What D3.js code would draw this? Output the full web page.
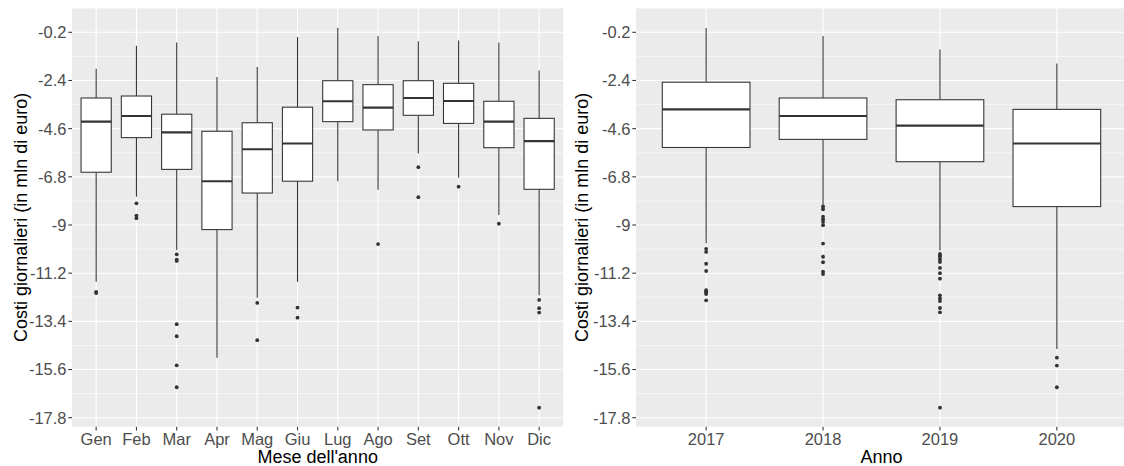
<!DOCTYPE html>
<html>
<head>
<meta charset="utf-8">
<script src="https://cdn.jsdelivr.net/npm/d3@7"></script>
<style>
  html, body { margin: 0; padding: 0; background: #ffffff; }
  svg { display: block; font-family: "Liberation Sans", Arial, sans-serif; }
</style>
</head>
<body>
<svg id="chart" width="1124" height="466"></svg>
<script>
// ---------- DATA ----------
const months = ["Gen","Feb","Mar","Apr","Mag","Giu","Lug","Ago","Set","Ott","Nov","Dic"];
const monthWhiskerHigh = [-1.86, -0.81, -0.67, -2.24, -1.78, -0.41, 0.01, -0.37, -0.61, -0.57, -0.67, -1.94];
const monthQ3          = [-3.20, -3.11, -3.94, -4.72, -4.33, -3.62, -2.41, -2.59, -2.41, -2.53, -3.35, -4.13];
const monthMedian      = [-4.28, -4.02, -4.77, -7.00, -5.54, -5.28, -3.35, -3.64, -3.20, -3.34, -4.28, -5.17];
const monthQ1          = [-6.59, -5.01, -6.46, -9.21, -7.54, -7.00, -4.28, -4.66, -3.99, -4.36, -5.47, -7.37];
const monthWhiskerLow  = [-11.59, -7.71, -10.14, -15.06, -12.32, -11.59, -7.00, -7.39, -5.74, -6.84, -8.54, -12.21];
const monthOutliers = [
  [-12.05, -12.11],
  [-8.01, -8.57, -8.69],
  [-10.34, -10.58, -10.64, -13.53, -14.08, -15.41, -16.41],
  [],
  [-12.56, -14.26],
  [-12.77, -13.23],
  [],
  [-9.87],
  [-6.36, -7.73],
  [-7.25],
  [-8.94],
  [-12.42, -12.80, -13.00, -17.34]
];

const years = ["2017","2018","2019","2020"];
const yearWhiskerHigh = [0.00, -0.37, -0.99, -1.62];
const yearQ3          = [-2.48, -3.20, -3.28, -3.72];
const yearMedian      = [-3.72, -4.02, -4.46, -5.28];
const yearQ1          = [-5.46, -5.09, -6.11, -8.16];
const yearWhiskerLow  = [-9.83, -8.07, -10.17, -14.66];
const yearOutliers = [
  [-10.09, -10.23, -10.77, -11.10, -11.97, -12.03, -12.09, -12.15, -12.44],
  [-8.15, -8.28, -8.62, -8.74, -8.86, -9.01, -9.85, -10.45, -10.70, -11.13, -11.24],
  [-10.32, -10.40, -10.45, -10.57, -10.69, -10.96, -11.20, -11.45, -12.21, -12.35, -12.47, -12.79, -12.99, -17.34],
  [-15.06, -15.42, -16.41]
];

const yTicks = [-0.2, -2.4, -4.6, -6.8, -9, -11.2, -13.4, -15.6, -17.8];
const yTitle = "Costi giornalieri (in mln di euro)";
const xTitleLeft = "Mese dell'anno";
const xTitleRight = "Anno";

// ---------- LAYOUT ----------
const svg = d3.select("#chart");
const panelTop = 8, panelBottom = 426.7;
const y = d3.scaleLinear().domain([-17.8, -0.2]).range([417.7, 32.3]);
const minorTicks = [];
for (let i = 0; i < yTicks.length - 1; i++) minorTicks.push((yTicks[i] + yTicks[i + 1]) / 2);
minorTicks.unshift(yTicks[0] + 1.1);

function drawPanel(cfg) {
  const { cats, hi, q3, med, q1, lo, outs, x0, x1, title, ytitleX } = cfg;
  const x = d3.scalePoint().domain(cats).range([x0, x1]).padding(0.6);
  const step = x.step();
  const bw = step * 0.75;
  const g = svg.append("g");
  const clipId = "clip" + Math.round(x0);
  svg.append("clipPath").attr("id", clipId).append("rect")
    .attr("x", x0).attr("y", panelTop).attr("width", x1 - x0).attr("height", panelBottom - panelTop);

  g.append("rect").attr("x", x0).attr("y", panelTop)
    .attr("width", x1 - x0).attr("height", panelBottom - panelTop).attr("fill", "#EBEBEB");

  const grid = g.append("g").attr("clip-path", `url(#${clipId})`);
  grid.selectAll("line.minor").data(minorTicks).join("line")
    .attr("x1", x0).attr("x2", x1).attr("y1", d => y(d)).attr("y2", d => y(d))
    .attr("stroke", "#ffffff").attr("stroke-width", 0.55);
  grid.selectAll("line.major").data(yTicks).join("line")
    .attr("x1", x0).attr("x2", x1).attr("y1", d => y(d)).attr("y2", d => y(d))
    .attr("stroke", "#ffffff").attr("stroke-width", 1.1);
  grid.selectAll("line.vmajor").data(cats).join("line")
    .attr("x1", d => x(d)).attr("x2", d => x(d)).attr("y1", panelTop).attr("y2", panelBottom)
    .attr("stroke", "#ffffff").attr("stroke-width", 1.1);

  const boxes = g.append("g").attr("clip-path", `url(#${clipId})`);
  cats.forEach((c, i) => {
    const cx = x(c);
    boxes.append("line").attr("x1", cx).attr("x2", cx)
      .attr("y1", y(hi[i])).attr("y2", y(q3[i]))
      .attr("stroke", "#333333").attr("stroke-width", 1.07);
    boxes.append("line").attr("x1", cx).attr("x2", cx)
      .attr("y1", y(q1[i])).attr("y2", y(lo[i]))
      .attr("stroke", "#333333").attr("stroke-width", 1.07);
    boxes.append("rect").attr("x", cx - bw / 2).attr("y", y(q3[i]))
      .attr("width", bw).attr("height", y(q1[i]) - y(q3[i]))
      .attr("fill", "#ffffff").attr("stroke", "#333333").attr("stroke-width", 1.07);
    boxes.append("line").attr("x1", cx - bw / 2).attr("x2", cx + bw / 2)
      .attr("y1", y(med[i])).attr("y2", y(med[i]))
      .attr("stroke", "#333333").attr("stroke-width", 2.1);
    boxes.selectAll(null).data(outs[i]).join("circle")
      .attr("cx", cx).attr("cy", d => y(d)).attr("r", 1.9).attr("fill", "#333333");
  });

  // y axis
  const ya = g.append("g");
  ya.selectAll("line").data(yTicks).join("line")
    .attr("x1", x0 - 3.7).attr("x2", x0).attr("y1", d => y(d)).attr("y2", d => y(d))
    .attr("stroke", "#333333").attr("stroke-width", 1.07);
  ya.selectAll("text").data(yTicks).join("text")
    .attr("x", x0 - 5.5).attr("y", d => y(d)).attr("dy", "0.36em")
    .attr("text-anchor", "end").attr("fill", "#4D4D4D").attr("font-size", 16.5)
    .text(d => d3.format("")(d).replace("−", "-"));

  // x axis
  const xa = g.append("g");
  xa.selectAll("line").data(cats).join("line")
    .attr("x1", d => x(d)).attr("x2", d => x(d)).attr("y1", panelBottom).attr("y2", panelBottom + 3.7)
    .attr("stroke", "#333333").attr("stroke-width", 1.07);
  xa.selectAll("text").data(cats).join("text")
    .attr("x", d => x(d)).attr("y", 444.5)
    .attr("text-anchor", "middle").attr("fill", "#4D4D4D").attr("font-size", 16.5)
    .text(d => d);

  // titles
  g.append("text").attr("x", (x0 + x1) / 2).attr("y", 462.5)
    .attr("text-anchor", "middle").attr("fill", "#000000").attr("font-size", 18)
    .text(title);
  g.append("text")
    .attr("transform", `translate(${ytitleX},${(panelTop + panelBottom) / 2}) rotate(-90)`)
    .attr("text-anchor", "middle").attr("fill", "#000000").attr("font-size", 18)
    .text(yTitle);
}

drawPanel({ cats: months, hi: monthWhiskerHigh, q3: monthQ3, med: monthMedian, q1: monthQ1,
  lo: monthWhiskerLow, outs: monthOutliers, x0: 72, x1: 563.3, title: xTitleLeft, ytitleX: 27 });
drawPanel({ cats: years, hi: yearWhiskerHigh, q3: yearQ3, med: yearMedian, q1: yearQ1,
  lo: yearWhiskerLow, outs: yearOutliers, x0: 636, x1: 1127, title: xTitleRight, ytitleX: 588 });
</script>
</body>
</html>
